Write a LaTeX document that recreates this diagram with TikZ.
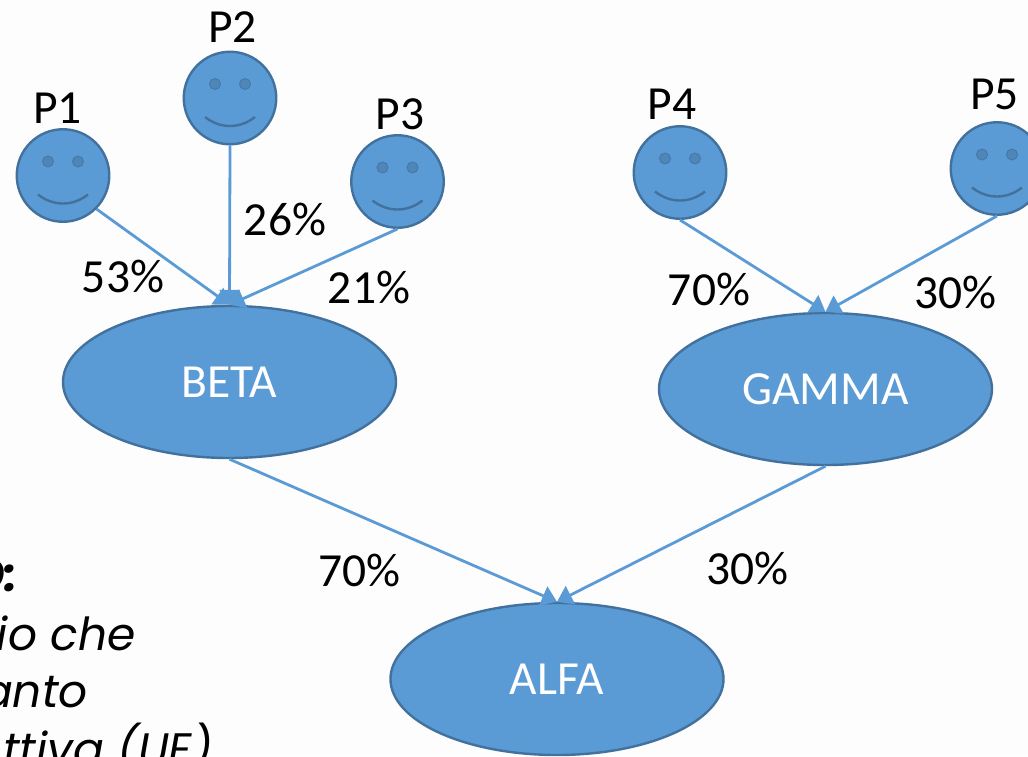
\documentclass[tikz,border=0pt]{standalone}
\usepackage{fontspec}
\setmainfont{Carlito}
\newfontfamily\popfont{Poppins}
\usetikzlibrary{shapes.geometric,arrows.meta}
\definecolor{blu}{HTML}{5B9BD5}
\definecolor{edge}{HTML}{41719C}
\definecolor{eye}{HTML}{4F86B8}
\definecolor{paper}{HTML}{FDFDFE}
\newcommand{\lowr}[1]{\raisebox{-1.5pt}{#1}}
\tikzset{
  x=1pt,y=-1pt,
  face/.style={circle,draw=edge,fill=blu,line width=2.4pt,inner sep=0pt,minimum size=92.5pt,
    path picture={
      \begin{scope}[shift={(path picture bounding box.center)}]
        \fill[eye,draw=edge!80!blu,line width=1pt] (-15,-14) circle (5.5);
        \fill[eye,draw=edge!80!blu,line width=1pt] (15,-14) circle (5.5);
        \draw[edge,line width=2.4pt] (-25,19) .. controls (-10,31) and (10,31) .. (25,19);
      \end{scope}}},
  blob/.style={ellipse,draw=edge,fill=blu,line width=2.4pt,inner sep=0pt,minimum width=333pt,minimum height=152pt,text=white,font=\fontsize{47.5}{47.5}\selectfont},
  conn/.style={blu,line width=2.8pt,-{Triangle[width=20pt,length=15pt]}},
  lab/.style={anchor=base,font=\fontsize{47.5}{47.5}\selectfont,text=black,inner sep=0pt},
  cut/.style={anchor=base east,inner sep=0pt,font=\fontsize{45.5}{45.5}\popfont\itshape,text=black}
}
\begin{document}
\begin{tikzpicture}
\useasboundingbox (0,0) rectangle (1028,756);
\clip (0,0) rectangle (1028,756);
\fill[paper] (0,0) rectangle (1028,756);

\node[cut] (t1) at (18,591) {\bfseries O:};
\node[cut] (t2) at (136,650) {io che};
\node[cut] (t3) at (88,707) {anto};
\node[cut] (t4) at (213,765) {ttiva (UE)};

\node[face] (p1) at (63,175.5) {};
\node[face] (p2) at (230,98) {};
\node[face] (p3) at (397.5,181.5) {};
\node[face] (p4) at (680,172.5) {};
\node[face] (p5) at (997,168.5) {};

\node[blob] (beta) at (229.5,382) {\lowr{BETA}};
\node[blob] (gamma) at (825.5,389) {\lowr{GAMMA}};
\node[blob] (alfa) at (557,679) {\lowr{ALFA}};

\draw[conn] (p1.-45) -- (beta.north);
\draw[conn] (p2.south) -- (beta.north);
\draw[conn] (p3.south) -- (beta.north);
\draw[conn] (p4.south) -- (gamma.north);
\draw[conn] (p5.south) -- (gamma.north);
\draw[conn] (beta.south) -- (alfa.north);
\draw[conn] (gamma.south) -- (alfa.north);

\node[lab] (l1) at (57.5,123) {P1};
\node[lab] (l2) at (232.5,42) {P2};
\node[lab] (l3) at (400,129) {P3};
\node[lab] (l4) at (672,119) {P4};
\node[lab] (l5) at (994.5,109) {P5};
\node[lab] (a) at (123,292) {53\%};
\node[lab] (b) at (285,235) {26\%};
\node[lab] (c) at (369,303) {21\%};
\node[lab] (d) at (709,305) {70\%};
\node[lab] (e) at (955.5,308) {30\%};
\node[lab] (f) at (359.5,586) {70\%};
\node[lab] (g) at (747.5,584) {30\%};
\end{tikzpicture}
\end{document}
